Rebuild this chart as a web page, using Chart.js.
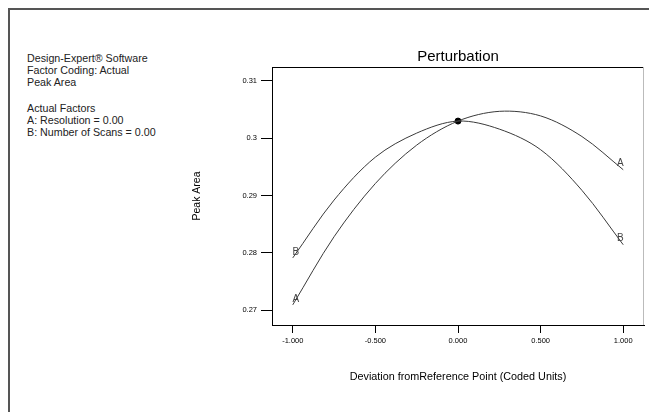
<!DOCTYPE html>
<html>
<head>
<meta charset="utf-8">
<script src="https://cdn.jsdelivr.net/npm/chart.js@4.4.0/dist/chart.umd.min.js"></script>
<style>
    body { margin: 0; background: #fff; }
    #wrap { position: relative; width: 649px; height: 412px; overflow: hidden; }
    #frame { position: absolute; left: 8px; top: 8px; width: 700px; height: 500px; border-top: 2px solid #555; border-left: 2px solid #555; }
    #notes { position: absolute; left: 27px; top: 52px; font: 10.7px "Liberation Sans", Arial, sans-serif; color: #222; line-height: 12px; }
    #notes p { margin: 0 0 14px 0; }
    canvas { position: absolute; left: 0; top: 0; }
</style>
</head>
<body>
<div id="wrap">
    <div id="frame"></div>
    <div id="notes">
        <p>Design-Expert® Software<br>Factor Coding: Actual<br>Peak Area</p>
        <p>Actual Factors<br>A: Resolution = 0.00<br>B: Number of Scans = 0.00</p>
    </div>
    <canvas id="myChart" width="649" height="412"></canvas>
</div>
<script>
// deviation from reference point (coded units)
const xValues = [-1, -0.75, -0.5, -0.25, 0, 0.25, 0.5, 0.75, 1];
const resolutionA = [0.2709, 0.2828, 0.2921, 0.2988, 0.3030, 0.3047, 0.3039, 0.3003, 0.2945];
const scansB = [0.2791, 0.2892, 0.2967, 0.3009, 0.3030, 0.3016, 0.2980, 0.2909, 0.2814];
const centerPoint = [0, 0.3030];

const xTicks = [-1, -0.5, 0, 0.5, 1];
const xTickLabels = ['-1.000', '-0.500', '0.000', '0.500', '1.000'];
const yTicks = [0.27, 0.28, 0.29, 0.30, 0.31];
const yTickLabels = ['0.27', '0.28', '0.29', '0.3', '0.31'];

const FONT = '"Liberation Sans", Arial, sans-serif';

function toPoints(ys) {
    return xValues.map((x, i) => ({x: x, y: ys[i]}));
}

// top and right edge of the plot box
const boxPlugin = {
    id: 'box',
    beforeDatasetsDraw(chart) {
        const {ctx, chartArea: a} = chart;
        ctx.save();
        ctx.lineWidth = 1;
        ctx.strokeStyle = '#000';
        ctx.beginPath();
        ctx.moveTo(a.left, a.top + 0.5);
        ctx.lineTo(a.right, a.top + 0.5);
        ctx.stroke();
        ctx.strokeStyle = '#bbb';
        ctx.beginPath();
        ctx.moveTo(a.right - 0.5, a.top);
        ctx.lineTo(a.right - 0.5, a.bottom);
        ctx.stroke();
        ctx.restore();
    }
};

// factor letters at both ends of each curve
const endLabels = {
    id: 'endLabels',
    afterDatasetsDraw(chart) {
        const ctx = chart.ctx;
        ctx.save();
        ctx.font = '10px ' + FONT;
        ctx.fillStyle = '#444';
        ctx.textAlign = 'center';
        ctx.textBaseline = 'middle';
        chart.data.datasets.forEach((ds, i) => {
            if(!ds.endLabel) return;
            const pts = chart.getDatasetMeta(i).data;
            const first = pts[0], last = pts[pts.length - 1];
            ctx.fillText(ds.endLabel, first.x + 3, first.y - 6);
            ctx.fillText(ds.endLabel, last.x - 3, last.y - 6);
        });
        ctx.restore();
    }
};

new Chart(document.getElementById('myChart'), {
    type: 'line',
    data: {
        datasets: [
            {
                label: 'A',
                endLabel: 'A',
                data: toPoints(resolutionA),
                borderColor: '#3a3a3a',
                borderWidth: 1,
                pointRadius: 0,
                tension: 0.33
            },
            {
                label: 'B',
                endLabel: 'B',
                data: toPoints(scansB),
                borderColor: '#3a3a3a',
                borderWidth: 1,
                pointRadius: 0,
                tension: 0.33
            },
            {
                type: 'scatter',
                label: 'center',
                data: [{x: centerPoint[0], y: centerPoint[1]}],
                backgroundColor: '#000',
                borderColor: '#000',
                pointRadius: 3
            }
        ]
    },
    plugins: [boxPlugin, endLabels],
    options: {
        responsive: false,
        animation: false,
        layout: { padding: {left: 185, top: 40, right: 1, bottom: 17} },
        plugins: {
            legend: { display: false },
            tooltip: { enabled: false },
            title: {
                display: true,
                fullSize: false,
                text: 'Perturbation',
                color: '#000',
                font: { family: FONT, size: 15, weight: 'normal' },
                padding: { top: 8, bottom: 1 }
            }
        },
        scales: {
            x: {
                type: 'linear',
                min: -1.1257,
                max: 1.1257,
                afterBuildTicks: (s) => { s.ticks = xTicks.map(v => ({value: v})); },
                afterFit: (s) => { s.height = 70; },
                grid: { drawOnChartArea: false, drawTicks: true, tickLength: 8, color: '#000' },
                border: { display: true, color: '#000' },
                ticks: {
                    autoSkip: false,
                    maxRotation: 0,
                    padding: 3,
                    color: '#000',
                    font: { family: FONT, size: 7.5 },
                    callback: (v, i) => xTickLabels[i]
                },
                title: {
                    display: true,
                    text: 'Deviation fromReference Point (Coded Units)',
                    color: '#000',
                    font: { family: FONT, size: 10.8 },
                    padding: { top: 0, bottom: 11 }
                }
            },
            y: {
                min: 0.26738,
                max: 0.312445,
                afterBuildTicks: (s) => { s.ticks = yTicks.map(v => ({value: v})); },
                afterFit: (s) => { s.width = 87; },
                grid: { drawOnChartArea: false, drawTicks: true, tickLength: 11, color: '#000' },
                border: { display: true, color: '#000' },
                ticks: {
                    autoSkip: false,
                    padding: 4,
                    color: '#000',
                    font: { family: FONT, size: 7.5 },
                    callback: (v, i) => yTickLabels[i]
                },
                title: {
                    display: true,
                    text: 'Peak Area',
                    color: '#000',
                    font: { family: FONT, size: 10.5 },
                    padding: { top: 6, bottom: 0 }
                }
            }
        }
    }
});
</script>
</body>
</html>
